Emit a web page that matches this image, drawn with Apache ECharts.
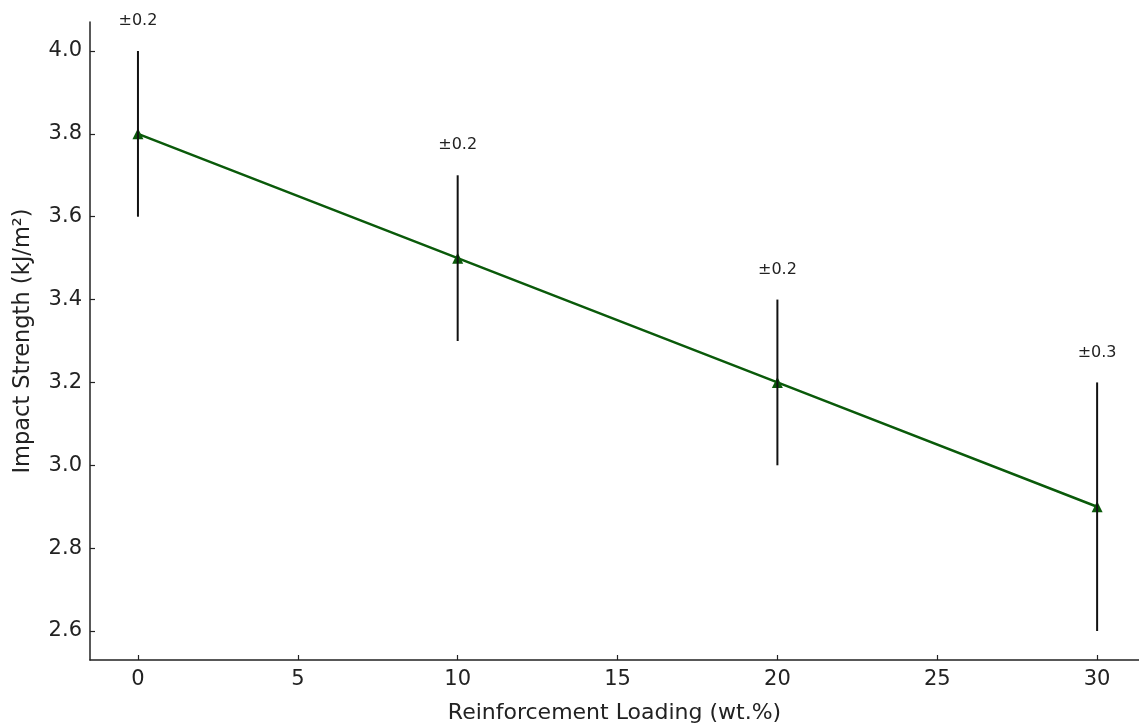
<!DOCTYPE html>
<html>
<head>
<meta charset="utf-8">
<script src="https://cdn.jsdelivr.net/npm/echarts@6/dist/echarts.min.js"></script>
<style>
	html, body { margin: 0; padding: 0; background: #fff; }
	#main { width: 1139px; height: 727px; }
</style>
</head>
<body>
<div id="main"></div>
<script>
// data
var loading = [0, 10, 20, 30];
var strength = [3.8, 3.5, 3.2, 2.9];
var errors = [0.2, 0.2, 0.2, 0.3];
var xTicks = [0, 5, 10, 15, 20, 25, 30];
var yTicks = [2.6, 2.8, 3.0, 3.2, 3.4, 3.6, 3.8, 4.0];

var font = 'DejaVu Sans';
var myChart = echarts.init(document.getElementById('main'));

var lineData = loading.map(function (x, i) { return [x, strength[i]]; });
var errData = loading.map(function (x, i) { return [x, strength[i], errors[i]]; });

var option = {
	animation: false,
	backgroundColor: '#ffffff',
	grid: { left: 90, top: 22, right: 0, bottom: 67, outerBoundsMode: 'none' },
	xAxis: {
		type: 'value',
		min: -1.5,
		max: 31.31, // picture is cut a bit before the plot's right edge
		name: 'Reinforcement Loading (wt.%)',
		nameLocation: 'middle',
		nameGap: 42,
		nameTextStyle: { fontFamily: font, fontSize: 22, color: '#222' },
		axisLine: { show: true, onZero: false, lineStyle: { color: '#222', width: 1.5 } },
		axisTick: { show: true, inside: true, length: 5, customValues: xTicks, lineStyle: { color: '#222', width: 1.2 } },
		axisLabel: { customValues: xTicks, margin: 9, fontFamily: font, fontSize: 21, color: '#222' },
		splitLine: { show: false }
	},
	yAxis: {
		type: 'value',
		min: 2.53,
		max: 4.07,
		name: 'Impact Strength (kJ/m²)',
		nameLocation: 'middle',
		nameGap: 55,
		nameRotate: 90,
		nameTextStyle: { fontFamily: font, fontSize: 22.5, color: '#222' },
		axisLine: { show: true, onZero: false, lineStyle: { color: '#222', width: 1.5 } },
		axisTick: { show: true, inside: true, length: 5, customValues: yTicks, lineStyle: { color: '#222', width: 1.2 } },
		axisLabel: {
			customValues: yTicks,
			margin: 8,
			fontFamily: font,
			fontSize: 21,
			color: '#222',
			formatter: function (v) { return v.toFixed(1); }
		},
		splitLine: { show: false }
	},
	series: [
		{
			type: 'line',
			data: lineData,
			z: 2,
			symbol: 'triangle',
			symbolSize: 11,
			lineStyle: { color: '#0a5a0a', width: 2.5 },
			itemStyle: { color: '#0a5a0a' }
		},
		{
			type: 'custom',
			z: 3,
			data: errData,
			renderItem: function (params, api) {
				var x = api.value(0), y = api.value(1), e = api.value(2);
				var top = api.coord([x, y + e]);
				var bot = api.coord([x, y - e]);
				return {
					type: 'group',
					children: [
						{
							type: 'line',
							shape: { x1: top[0], y1: top[1], x2: bot[0], y2: bot[1] },
							style: { stroke: '#111', lineWidth: 2 }
						},
						{
							type: 'text',
							style: {
								x: top[0],
								y: top[1] - 30,
								text: '±' + e.toFixed(1),
								fill: '#222',
								font: '16px "DejaVu Sans"',
								textAlign: 'center',
								textVerticalAlign: 'middle'
							}
						}
					]
				};
			}
		}
	]
};

myChart.setOption(option);
</script>
</body>
</html>
